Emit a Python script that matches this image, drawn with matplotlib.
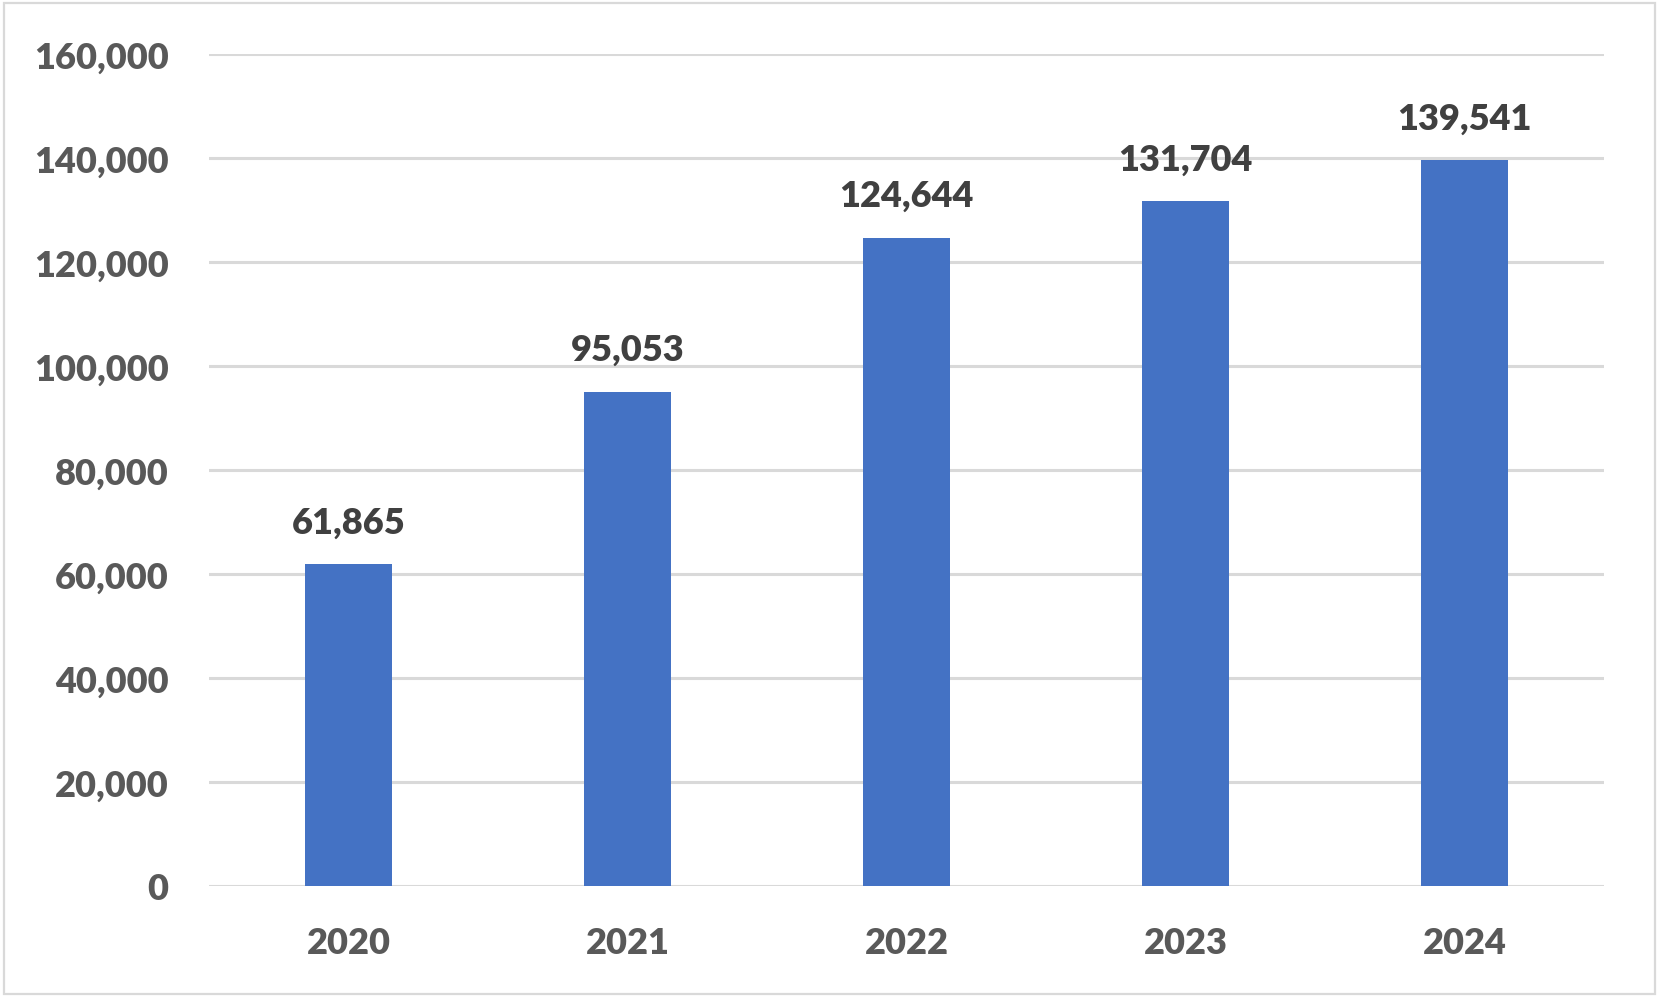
import matplotlib
matplotlib.use("Agg")
import matplotlib.pyplot as plt
from matplotlib.patches import Rectangle
from matplotlib.ticker import FuncFormatter

years = ["2020", "2021", "2022", "2023", "2024"]
values = [61865, 95053, 124644, 131704, 139541]
y_ticks = [0, 20000, 40000, 60000, 80000, 100000, 120000, 140000, 160000]

BAR = "#4472C4"
GRID = "#d9d9d9"
TICK = "#595959"
LABEL = "#404040"
FONT = "Lato"
WEIGHT = "heavy"
SIZE = 26

fig = plt.figure(figsize=(16.63, 10.03), dpi=100)
ax = fig.add_axes([209/1663, 1-887/1003, (1604-209)/1663, (887-55)/1003])

positions = range(len(years))
bars = ax.bar(positions, values, width=0.315, color=BAR, zorder=3)
for bar, value in zip(bars, values):
    ax.annotate(f"{value:,}", (bar.get_x()+bar.get_width()/2, value),
                xytext=(0, 18.5), textcoords="offset points", ha="center",
                va="bottom", fontsize=SIZE, fontweight=WEIGHT, color=LABEL,
                family=FONT)

ax.set_xlim(-0.5, len(years)-0.5)
ax.set_ylim(0, 160000)
ax.set_yticks(y_ticks)
ax.yaxis.set_major_formatter(FuncFormatter(lambda v, _: f"{v:,.0f}"))
ax.set_xticks(list(positions))
ax.set_xticklabels(years)
ax.grid(axis="y", color=GRID, lw=2.2, zorder=0)
ax.tick_params(length=0)
ax.tick_params(axis="y", pad=29)
ax.tick_params(axis="x", pad=29)
for lab in ax.get_xticklabels() + ax.get_yticklabels():
    lab.set_fontsize(SIZE)
    lab.set_fontweight(WEIGHT)
    lab.set_color(TICK)
    lab.set_family(FONT)
for side in ("top", "right", "left", "bottom"):
    ax.spines[side].set_visible(False)

fig.patches.append(Rectangle((4/1663, 1-995/1003), (1655-4)/1663, (995-4)/1003,
                             transform=fig.transFigure, fill=False,
                             edgecolor=GRID, lw=1.6))

fig.savefig("out.png", dpi=100)
